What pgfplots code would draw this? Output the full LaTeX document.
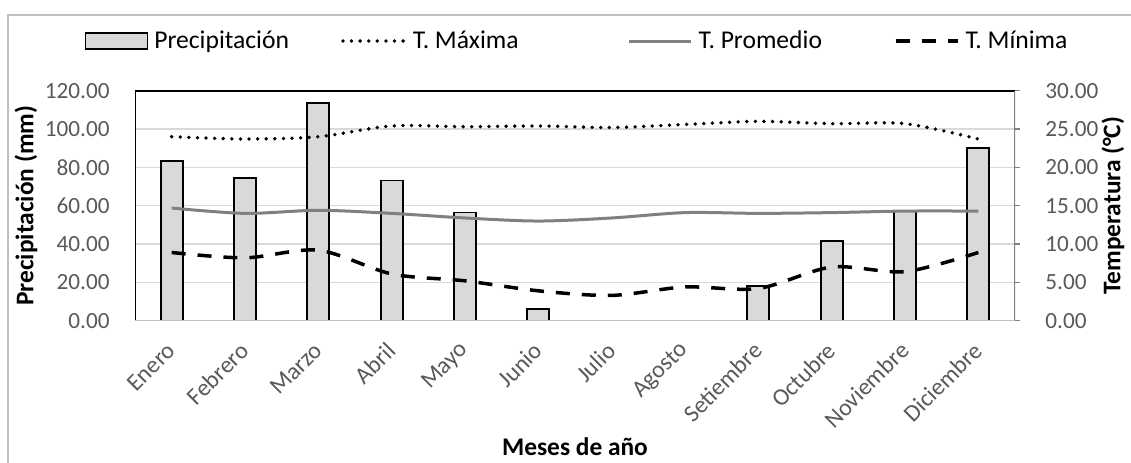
\documentclass[border=0pt]{standalone}
\usepackage{fontspec}
\setmainfont{Carlito}
\usepackage{pgfplots}
\usepackage{pgfplotstable}
\pgfplotsset{compat=1.18}

\definecolor{barfill}{HTML}{D9D9D9}
\definecolor{gridc}{HTML}{D9D9D9}
\definecolor{tickc}{HTML}{595959}
\definecolor{promc}{HTML}{808080}
\definecolor{framec}{HTML}{BFBFBF}

% mes: 0 = Enero ... 11 = Diciembre
\pgfplotstableread{
mes pp    tmax tprom tmin
0   83.3  24.0 14.7  8.9
1   74.4  23.7 14.0  8.2
2   113.4 24.0 14.4  9.2
3   73.2  25.4 14.0  6.1
4   56.5  25.3 13.4  5.2
5   6.3   25.4 13.0  3.9
6   0     25.2 13.4  3.3
7   0     25.6 14.1  4.4
8   18.1  26.0 14.0  4.2
9   41.6  25.7 14.1  7.0
10  57.4  25.7 14.3  6.4
11  90.3  23.7 14.3  8.9
}\datos

\pgfplotsset{
  base/.style={
    scale only axis, width=440pt, height=115pt,
    at={(67.5pt,-160.35pt)}, anchor=south west,
    xmin=-0.5, xmax=11.5,
    axis line style={draw=none},
    /pgf/number format/.cd, fixed, fixed zerofill, precision=2, assume math mode=true,
    /pgfplots/.cd,
    yticklabel style={font=\fontsize{11.6}{13}\selectfont, text=tickc, inner sep=0pt},
    ylabel style={font=\bfseries\fontsize{12.7}{14}\selectfont, anchor=center},
  },
}

\begin{document}
\begin{tikzpicture}[x=1pt,y=1pt]
\path[use as bounding box] (0,0) rectangle (565.5,-231);
\draw[framec, line width=0.75pt] (4,-240) -- (4,-7.5) -- (570,-7.5);

% precipitación, eje izquierdo
\begin{axis}[base,
  ymin=0, ymax=120, ytick={0,20,...,120},
  ymajorgrids, grid style={gridc, line width=0.75pt},
  major tick length=0pt,
  xtick={0,...,11},
  xticklabels={Enero,Febrero,Marzo,Abril,Mayo,Junio,Julio,Agosto,Setiembre,Octubre,Noviembre,Diciembre},
  xticklabel style={font=\fontsize{12}{14}\selectfont, text=tickc, rotate=45, anchor=east, inner sep=0pt, xshift=-9.1pt, yshift=-9.1pt},
  yticklabel style={xshift=-12.5pt},
  ylabel={Precipitación (mm)},
  ylabel style={at={(axis description cs:-0.1239,0.5)}},
  xlabel={Meses de año},
  xlabel style={at={(axis description cs:0.5,-0.549)}, anchor=center, font=\bfseries\fontsize{12.7}{14}\selectfont},
]
\addplot[ybar, bar width=0.3, fill=barfill, draw=black, line width=0.9pt] table[x=mes, y=pp] {\datos};
\end{axis}

% temperaturas, eje derecho
\begin{axis}[base,
  ymin=0, ymax=30, ytick={0,5,...,30},
  xtick=\empty,
  ytick pos=right, yticklabel pos=right,
  tick align=outside, major tick length=2.5pt,
  major tick style={promc, line width=0.75pt},
  yticklabel style={xshift=12.5pt},
  ylabel={Temperatura (°C)},
  ylabel style={at={(axis description cs:1.1114,0.5)}},
  legend columns=4,
  legend cell align=left,
  legend image code/.code={\draw[#1] (0pt,0pt) -- (31pt,0pt);},
  legend style={at={(0.5036,1)}, anchor=center, yshift=24.85pt, draw=none, fill=none,
    font=\fontsize{12.8}{14}\selectfont,
    /tikz/every odd column/.append style={column sep=1pt},
    /tikz/column 2/.append style={column sep=24pt},
    /tikz/column 4/.append style={column sep=52.5pt},
    /tikz/column 6/.append style={column sep=34pt}},
]
\addlegendimage{legend image code/.code={\draw[fill=barfill, draw=black, line width=0.75pt] (0pt,-4pt) rectangle (31pt,4pt);}}
\addlegendentry{Precipitación}
\addplot[black, line width=1.9pt, dash pattern=on 0pt off 4.3pt, line cap=round, smooth, tension=0.5] table[x=mes, y=tmax] {\datos};
\addlegendentry{T. Máxima}
\addplot[promc, line width=1.5pt, smooth, tension=0.5] table[x=mes, y=tprom] {\datos};
\addlegendentry{T. Promedio}
\addplot[black, line width=1.75pt, dash pattern=on 7pt off 6pt, smooth, tension=0.5] table[x=mes, y=tmin] {\datos};
\addlegendentry{T. Mínima}
\draw[black, line width=1pt] (rel axis cs:0,0) -- (rel axis cs:0,1) -- (rel axis cs:1,1);
\draw[promc, line width=1pt] (rel axis cs:1,1) -- (rel axis cs:1,0);
\draw[framec, line width=1pt] (rel axis cs:0,0) -- (rel axis cs:1,0);
\end{axis}
\end{tikzpicture}
\end{document}
